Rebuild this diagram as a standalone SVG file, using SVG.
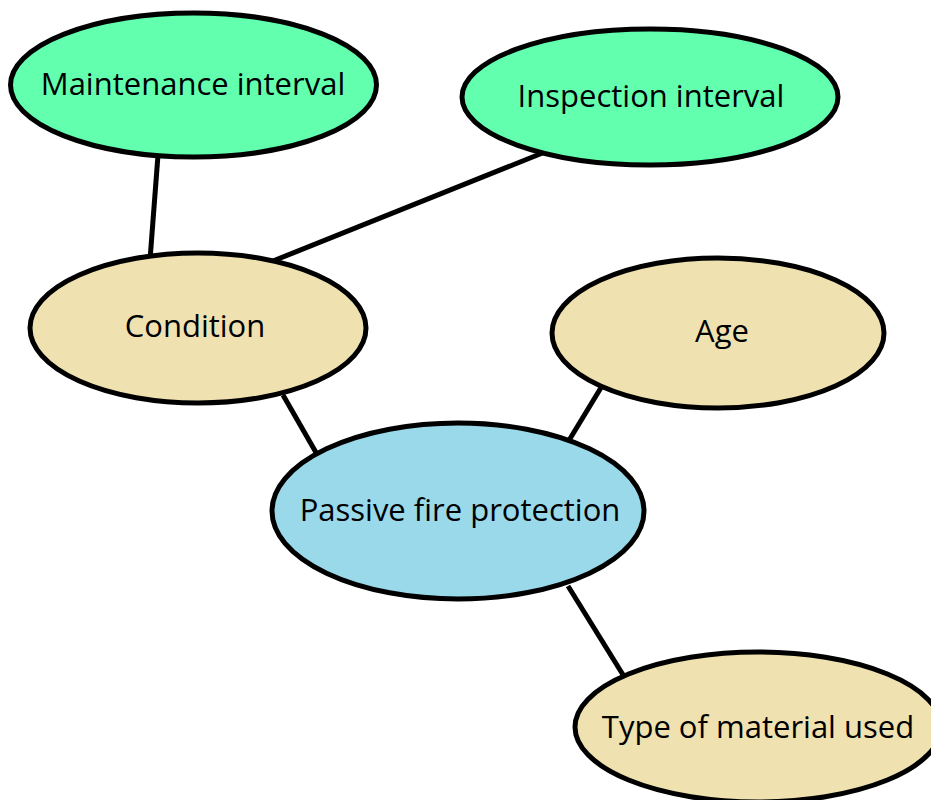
<svg xmlns="http://www.w3.org/2000/svg" width="931" height="800" viewBox="0 0 931 800">
<style>
.n{stroke:#000;stroke-width:5}
.g{fill:#62FFAF}
.t{fill:#EFE2B0}
.b{fill:#99D9EA}
.l{stroke:#000;stroke-width:5;fill:none}
text{font-family:"Open Sans","Noto Sans","Liberation Sans",sans-serif;font-size:31px;fill:#000;text-anchor:middle}
</style>
<rect width="931" height="800" fill="#fff"/>
<g id="connectors">
<line class="l" x1="158" y1="155" x2="150" y2="260"/>
<line class="l" x1="545" y1="152" x2="268" y2="263"/>
<line class="l" x1="283" y1="395" x2="318" y2="456"/>
<line class="l" x1="602" y1="386" x2="568" y2="442"/>
<line class="l" x1="568" y1="586" x2="625" y2="678"/>
</g>
<g id="maintenance">
<ellipse class="n g" cx="193.5" cy="85" rx="183" ry="72"/>
<text x="193" y="95">Maintenance interval</text>
</g>
<g id="inspection">
<ellipse class="n g" cx="650" cy="97" rx="188" ry="68"/>
<text x="651" y="107">Inspection interval</text>
</g>
<g id="condition">
<ellipse class="n t" cx="198" cy="328" rx="168" ry="75"/>
<text x="195" y="337">Condition</text>
</g>
<g id="age">
<ellipse class="n t" cx="718" cy="333" rx="166" ry="75"/>
<text x="722" y="342">Age</text>
</g>
<g id="pfp">
<ellipse class="n b" cx="458" cy="511" rx="186" ry="88"/>
<text x="460" y="521">Passive fire protection</text>
</g>
<g id="material">
<ellipse class="n t" cx="758" cy="727" rx="183" ry="75"/>
<text x="758" y="738">Type of material used</text>
</g>
</svg>
